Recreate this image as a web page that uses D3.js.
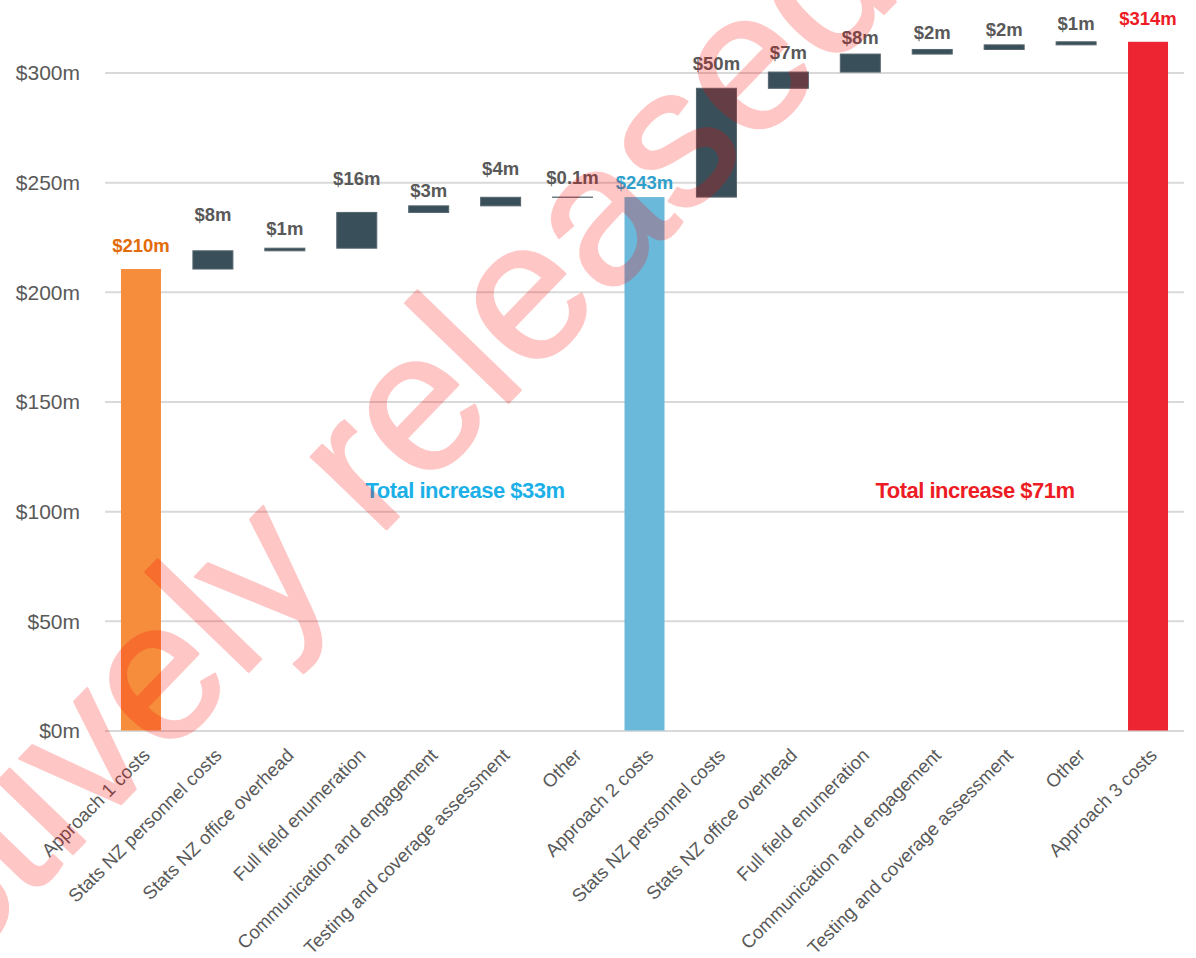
<!DOCTYPE html>
<html>
<head>
<meta charset="utf-8">
<script src="https://cdn.jsdelivr.net/npm/d3@7"></script>
<style>
  html, body { margin: 0; padding: 0; background: #ffffff; }
  svg { display: block; }
</style>
</head>
<body>
<svg id="chart" width="1196" height="958"></svg>
<script>
// ---- Data -------------------------------------------------------------
const categories = [
  "Approach 1 costs",
  "Stats NZ personnel costs",
  "Stats NZ office overhead",
  "Full field enumeration",
  "Communication and engagement",
  "Testing and coverage assessment",
  "Other",
  "Approach 2 costs",
  "Stats NZ personnel costs",
  "Stats NZ office overhead",
  "Full field enumeration",
  "Communication and engagement",
  "Testing and coverage assessment",
  "Other",
  "Approach 3 costs"
];
const approach1Total = 210.4;                        // $m
const approach2Steps = [8.3, 1.2, 16.3, 3.0, 3.9, 0.1]; // $m added on top of approach 1
const approach3Steps = [49.6, 7.4, 8.2, 2.1, 2.1, 1.4]; // $m added on top of approach 2
const yTicks = [0, 50, 100, 150, 200, 250, 300];

// ---- Layout / style ---------------------------------------------------
const W = 1196, H = 958;
const plot = { left: 105, right: 1184, top: 72.5, bottom: 730.5 };
const colors = {
  total1: "#F58D3C", total2: "#6BB9DA", total3: "#ED2431", step: "#394F5A",
  label1: "#E26B0A", label2: "#2F9FCB", label3: "#EE1C25", stepLabel: "#595959",
  grid: "#D9D9D9", axisText: "#595959"
};
// distance (px) between each bar top and its value label baseline
const labelGaps = [17, 30, 13, 27, 9, 22, 13, 8, 18, 13, 10, 10, 9, 12, 17];

// ---- Build waterfall rows ----------------------------------------------
const rows = [];
let running = approach1Total;
rows.push({ cat: 0, kind: "total", group: 1, lo: 0, hi: running, value: running });
approach2Steps.forEach((v, i) => {
  rows.push({ cat: 1 + i, kind: "step", lo: running, hi: running + v, value: v });
  running += v;
});
const approach2Total = running;
rows.push({ cat: 7, kind: "total", group: 2, lo: 0, hi: running, value: running });
approach3Steps.forEach((v, i) => {
  rows.push({ cat: 8 + i, kind: "step", lo: running, hi: running + v, value: v });
  running += v;
});
const approach3Total = running;
rows.push({ cat: 14, kind: "total", group: 3, lo: 0, hi: running, value: running });

const fmt = v => v < 0.95 ? `$${v.toFixed(1)}m` : `$${Math.round(v)}m`;

// ---- Scales -------------------------------------------------------------
const x = d3.scaleBand()
  .domain(d3.range(categories.length))
  .range([plot.left, plot.right])
  .paddingInner(0.444)
  .paddingOuter(0.222);
const y = d3.scaleLinear().domain([0, 300]).range([plot.bottom, plot.top]);

const svg = d3.select("#chart");
svg.append("rect").attr("width", W).attr("height", H).attr("fill", "#fff");

// ---- Gridlines + y axis labels -----------------------------------------
const yAxis = d3.axisLeft(y)
  .tickValues(yTicks)
  .tickSize(-(plot.right - plot.left))
  .tickPadding(25)
  .tickFormat(d => `$${d}m`);
const gy = svg.append("g")
  .attr("transform", `translate(${plot.left},0)`)
  .call(yAxis);
gy.select(".domain").remove();
gy.selectAll(".tick line").attr("stroke", colors.grid).attr("stroke-width", 2);
gy.selectAll(".tick text")
  .attr("fill", colors.axisText)
  .attr("font-family", "'Liberation Sans', Arial, sans-serif")
  .attr("font-size", 21)
  .attr("dy", "0.35em");

// ---- Bars ---------------------------------------------------------------
const fillOf = d => d.kind === "step" ? colors.step : colors["total" + d.group];
svg.append("g").selectAll("rect")
  .data(rows)
  .join("rect")
  .attr("x", d => x(d.cat))
  .attr("width", x.bandwidth())
  .attr("y", d => y(d.hi))
  .attr("height", d => y(d.lo) - y(d.hi))
  .attr("fill", fillOf)
  .attr("stroke", d => d.kind === "step" ? "#55656E" : "none")
  .attr("stroke-width", d => d.kind === "step" ? 1 : 0);

// ---- Value labels -------------------------------------------------------
const labelFill = d => d.kind === "step" ? colors.stepLabel : colors["label" + d.group];
svg.append("g").selectAll("text")
  .data(rows)
  .join("text")
  .attr("x", d => x(d.cat) + x.bandwidth() / 2)
  .attr("y", d => y(d.hi) - labelGaps[d.cat])
  .attr("text-anchor", "middle")
  .attr("font-family", "'Liberation Sans', Arial, sans-serif")
  .attr("font-weight", "bold")
  .attr("font-size", 18.5)
  .attr("fill", labelFill)
  .text(d => fmt(d.value));

// ---- Category labels (rotated) -------------------------------------------
svg.append("g").selectAll("text")
  .data(categories)
  .join("text")
  .attr("transform", (d, i) => `translate(${x(i) + x.bandwidth() / 2 + 10},${plot.bottom + 26}) rotate(-45)`)
  .attr("text-anchor", "end")
  .attr("font-family", "'Liberation Sans', Arial, sans-serif")
  .attr("font-size", 18.6)
  .attr("fill", colors.axisText)
  .text(d => d);

// ---- Group annotations ----------------------------------------------------
const annotations = [
  { text: `Total increase ${fmt(approach2Total - approach1Total)}`, cx: 465, color: "#1BB0E8" },
  { text: `Total increase ${fmt(approach3Total - approach2Total)}`, cx: 975, color: "#ED1C24" }
];
svg.append("g").selectAll("text")
  .data(annotations)
  .join("text")
  .attr("x", d => d.cx)
  .attr("y", 498)
  .attr("text-anchor", "middle")
  .attr("font-family", "'Liberation Sans', Arial, sans-serif")
  .attr("font-weight", "bold")
  .attr("font-size", 22)
  .attr("letter-spacing", -0.5)
  .attr("fill", d => d.color)
  .text(d => d.text);

// ---- Release watermark ------------------------------------------------------
svg.append("g")
  .attr("opacity", 0.22)
  .append("text")
  .attr("transform", "translate(515,396) rotate(-46)")
  .attr("x", -1222)
  .attr("y", 0)
  .attr("font-family", "'Liberation Sans', Arial, sans-serif")
  .attr("font-size", 198)
  .attr("fill", "#FF0000")
  .attr("stroke", "#FF0000")
  .attr("stroke-width", 2.5)
  .attr("stroke-linejoin", "round")
  .text("Proactively released");
</script>
</body>
</html>
